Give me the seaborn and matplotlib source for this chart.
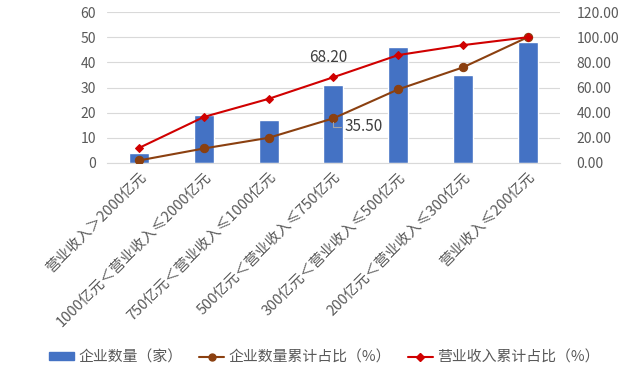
import numpy as np
import pandas as pd
import matplotlib
matplotlib.use("Agg")
import matplotlib.pyplot as plt
import seaborn as sns
from matplotlib.patches import Patch
from matplotlib.lines import Line2D

categories = [
    "营业收入＞2000亿元",
    "1000亿元＜营业收入≤2000亿元",
    "750亿元＜营业收入≤1000亿元",
    "500亿元＜营业收入≤750亿元",
    "300亿元＜营业收入≤500亿元",
    "200亿元＜营业收入≤300亿元",
    "营业收入≤200亿元",
]
companyCount = [4, 19, 17, 31, 46, 35, 48]
countCumPct = [2.0, 11.5, 20.0, 35.5, 58.5, 76.0, 100.0]
revenueCumPct = [12.0, 36.6, 51.0, 68.2, 85.8, 93.7, 100.0]

barName = "企业数量（家）"
countLineName = "企业数量累计占比（%）"
revenueLineName = "营业收入累计占比（%）"

barColor = "#4472C4"
brownColor = "#8B4010"
redColor = "#D00000"
textColor = "#595959"

sns.set_style("white")
plt.rcParams["font.family"] = ["Noto Sans CJK SC", "DejaVu Sans"]

df = pd.DataFrame({
    "category": categories,
    "count": companyCount,
    "countPct": countCumPct,
    "revenuePct": revenueCumPct,
})
df["pos"] = np.arange(len(df))

fig = plt.figure(figsize=(6.4, 3.78), dpi=100)
ax = fig.add_axes([0.167, 0.569, 0.708, 0.399])

sns.barplot(data=df, x="category", y="count", color=barColor,
            width=0.31, saturation=1, ax=ax)
ax.set_ylim(0, 60)
ax.set_yticks(range(0, 61, 10))
ax.grid(axis="y", color="#D9D9D9", linewidth=0.8)
ax.set_axisbelow(True)
ax.set_xlabel("")
ax.set_ylabel("")

ax2 = ax.twinx()
sns.lineplot(data=df, x="pos", y="countPct", color=brownColor, marker="o",
             markersize=6, markeredgecolor=brownColor, linewidth=1.5, ax=ax2)
sns.lineplot(data=df, x="pos", y="revenuePct", color=redColor, marker="D",
             markersize=4.5, markeredgecolor=redColor, linewidth=1.5, ax=ax2)
ax2.set_ylim(0, 120)
ax2.set_yticks(range(0, 121, 20))
ax2.set_yticklabels([f"{v:.2f}" for v in range(0, 121, 20)])
ax2.set_xlim(-0.5, len(df) - 0.5)
ax.set_xlim(-0.5, len(df) - 0.5)
ax2.set_xlabel("")
ax2.set_ylabel("")

for a in (ax, ax2):
    for s in a.spines.values():
        s.set_visible(False)
ax.spines["bottom"].set_visible(True)
ax.spines["bottom"].set_color("#D9D9D9")

ax.tick_params(axis="y", length=0, pad=8, labelsize=10, labelcolor=textColor)
ax2.tick_params(axis="y", length=0, pad=12, labelsize=10, labelcolor=textColor)
ax.tick_params(axis="x", length=0, pad=5, labelsize=10.5, labelcolor=textColor)
ax.set_xticks(df["pos"])
ax.set_xticklabels(categories, rotation=45, ha="right", rotation_mode="anchor")

ax2.annotate(f"{revenueCumPct[3]:.2f}", xy=(3, revenueCumPct[3]),
             xytext=(-4, 8), textcoords="offset points", ha="center",
             va="bottom", fontsize=11, color="#404040")
ax2.annotate(f"{countCumPct[3]:.2f}", xy=(3, countCumPct[3]),
             xytext=(8, -6), textcoords="offset points", ha="left",
             va="center", fontsize=11, color="#404040",
             arrowprops=dict(arrowstyle="-", color="#A6A6A6", lw=0.8,
                             connectionstyle="angle,angleA=0,angleB=90,rad=0",
                             shrinkA=0, shrinkB=3))

handles = [
    Patch(facecolor=barColor, edgecolor=barColor),
    Line2D([0], [0], color=brownColor, marker="o", markersize=5, linewidth=1.5),
    Line2D([0], [0], color=redColor, marker="D", markersize=4, linewidth=1.5),
]
leg = fig.legend(handles, [barName, countLineName, revenueLineName],
                 loc="center", bbox_to_anchor=(0.507, 0.055), ncol=3,
                 frameon=False, fontsize=10.7, handlelength=1.7,
                 handleheight=0.5, columnspacing=1.1, handletextpad=0.3)
for t in leg.get_texts():
    t.set_color(textColor)

fig.savefig("out.png", dpi=100)
